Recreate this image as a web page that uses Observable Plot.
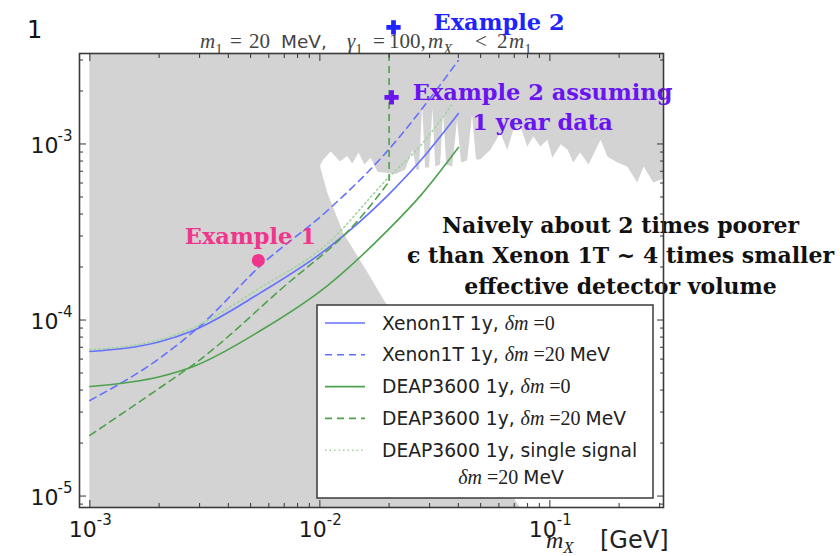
<!DOCTYPE html>
<html>
<head>
<meta charset="utf-8">
<script src="https://cdn.jsdelivr.net/npm/d3@7"></script>
<script src="https://cdn.jsdelivr.net/npm/@observablehq/plot@0.6"></script>
<style>
  body { margin: 0; background: #fff; }
  #chart { width: 840px; height: 556px; }
</style>
</head>
<body>
<div id="chart"></div>
<script>
// ---- axis limits and ticks (GeV on x, coupling on y) ----
const xDomain = [10 ** -3.045, 10 ** -0.506];
const yDomain = [10 ** -5.065, 10 ** -2.486];
const xMajorTicks = [1e-3, 1e-2, 1e-1];
const yMajorTicks = [1e-5, 1e-4, 1e-3];
const minorFactors = [2, 3, 4, 5, 6, 7, 8, 9];

// ---- excluded region (gray): below the lower edge and above the jagged upper edge ----
const bandLowX = [0.001, 0.0101, 0.0101, 0.0108, 0.0127, 0.0162, 0.019, 0.077];
const bandLowY = [1, 1, 7.3e-4, 5.3e-4, 3.1e-4, 1.85e-4, 1.3e-4, 8e-6];
const bandHighX = [0.0099, 0.0104, 0.0112, 0.0123, 0.0132, 0.0139, 0.0148, 0.0157, 0.0167, 0.0179,
  0.0214, 0.0236, 0.0254, 0.0264, 0.0271, 0.028, 0.0288, 0.03, 0.031, 0.0319, 0.0335, 0.0345,
  0.0356, 0.0378, 0.0397, 0.0413, 0.0439, 0.0461, 0.048, 0.05,
  0.0554, 0.0612, 0.0656, 0.0697, 0.0748, 0.0802, 0.0851, 0.0914, 0.098, 0.103,
  0.112, 0.12, 0.127, 0.136, 0.148, 0.167, 0.179, 0.198, 0.218, 0.241, 0.257, 0.283, 0.32];
const bandHighY = [7.3e-4, 8.1e-4, 9.0e-4, 7.9e-4, 8.5e-4, 7.7e-4, 8.9e-4, 7.6e-4, 8.3e-4, 6.9e-4,
  6.7e-4, 7.1e-4, 9.2e-4, 7.1e-4, 7.1e-4, 1.67e-3, 7.3e-4, 7.3e-4, 1.6e-3, 7.4e-4, 7.6e-4, 1.52e-3,
  7.6e-4, 7.4e-4, 1.37e-3, 7.8e-4, 8.0e-4, 1.46e-3, 8.1e-4, 8.1e-4,
  9.2e-4, 1.15e-3, 9.2e-4, 1.2e-3, 1.25e-3, 9.6e-4, 1.1e-3, 9.6e-4, 1.05e-3, 8.3e-4,
  9.9e-4, 9.2e-4, 7.8e-4, 8.9e-4, 7.6e-4, 1.05e-3, 8.4e-4, 7.8e-4, 7.4e-4, 6.0e-4, 7.4e-4, 6.0e-4, 6.4e-4];

// ---- projected 1-year sensitivities ----
const xenonX = [0.001, 0.00203, 0.00282, 0.00553, 0.0108, 0.0197, 0.0274, 0.04];
const xenonY = [6.62e-5, 7.55e-5, 8.72e-5, 1.43e-4, 2.55e-4, 5.09e-4, 8.05e-4, 1.49e-3];
const xenonDmX = [0.001, 0.00203, 0.00303, 0.00553, 0.0108, 0.0189, 0.04];
const xenonDmY = [3.49e-5, 6.12e-5, 9.31e-5, 2.04e-4, 4.19e-4, 8.61e-4, 2.98e-3];
const deapX = [0.001, 0.00203, 0.00282, 0.00553, 0.0108, 0.0197, 0.0274, 0.04];
const deapY = [4.19e-5, 4.78e-5, 5.45e-5, 8.72e-5, 1.57e-4, 3.23e-4, 5.09e-4, 9.55e-4];
const deapDmX = [0.001, 0.00224, 0.00282, 0.00675, 0.01503, 0.02];
const deapDmY = [2.21e-5, 4.53e-5, 5.58e-5, 1.49e-4, 3.82e-4, 6.12e-4];
const deapDmEdge = 0.02;   // δm = 20 MeV curve turns vertical here
const deapSingleX = [0.001, 0.00203, 0.00282, 0.00553, 0.0108, 0.0197, 0.0274, 0.0378];
const deapSingleY = [6.79e-5, 7.74e-5, 9.06e-5, 1.53e-4, 2.72e-4, 6.37e-4, 9.8e-4, 1.70e-3];

// ---- benchmark points ----
const exampleNames = ["Example 1", "Example 2", "Example 2 assuming\n1 year data"];
const exampleX = [0.0054, 0.0209, 0.0205];
const exampleY = [2.18e-4, 4.6e-3, 1.84e-3];
const exampleColors = ["#f0368c", "#1f24ff", "#6a14f0"];

const noteText = "Naively about 2 times poorer\nϵ than Xenon 1T ~ 4 times smaller\neffective detector volume";

// ---- series styling ----
const BLUE = "#6470ff", GREEN = "#4ea24e", LIGHTGREEN = "#9fd49f";
const pts = (xs, ys) => xs.map((x, i) => ({x, y: ys[i]}));
const series = [
  {data: pts(xenonX, xenonY), stroke: BLUE, dash: null},
  {data: pts(xenonDmX, xenonDmY), stroke: BLUE, dash: "7,5"},
  {data: pts(deapX, deapY), stroke: GREEN, dash: null},
  {data: pts(deapDmX, deapDmY), stroke: GREEN, dash: "7,5"},
  {data: pts(deapSingleX, deapSingleY), stroke: LIGHTGREEN, dash: "1.5,3"}
];

const minor = majors => majors.flatMap(m => minorFactors.map(f => f * m));
const xMinor = minor([1e-4, ...xMajorTicks]).filter(v => v > xDomain[0] && v < xDomain[1]);
const yMinor = minor([1e-6, ...yMajorTicks]).filter(v => v > yDomain[0] && v < yDomain[1]);
const expLabel = d => String(Math.round(Math.log10(d)));
const blank = () => "";
const examples = exampleNames.map((name, i) => ({name, x: exampleX[i], y: exampleY[i], color: exampleColors[i]}));

// inward-pointing ticks on all four sides
const tickAxes = [];
for (const [ticks, size] of [[xMajorTicks, 7], [xMinor, 4]]) {
  tickAxes.push(Plot.axisX(ticks, {anchor: "bottom", tickSize: size, dy: -size, tickFormat: blank, label: null, stroke: "#333"}));
  tickAxes.push(Plot.axisX(ticks, {anchor: "top", tickSize: size, dy: size, tickFormat: blank, label: null, stroke: "#333"}));
}
for (const [ticks, size] of [[yMajorTicks, 7], [yMinor, 4]]) {
  tickAxes.push(Plot.axisY(ticks, {anchor: "left", tickSize: size, dx: size, tickFormat: blank, label: null, stroke: "#333"}));
  tickAxes.push(Plot.axisY(ticks, {anchor: "right", tickSize: size, dx: -size, tickFormat: blank, label: null, stroke: "#333"}));
}

const serifBold = {fontFamily: "DejaVu Serif", fontWeight: "bold", fontSize: 22.5};

const chart = Plot.plot({
  width: 840, height: 556,
  marginLeft: 79, marginRight: 177, marginTop: 53, marginBottom: 49,
  style: {fontFamily: "DejaVu Sans, sans-serif", color: "#1a1a1a", background: "white"},
  x: {type: "log", domain: xDomain},
  y: {type: "log", domain: yDomain},
  marks: [
    Plot.areaY(pts(bandLowX, bandLowY), {x: "x", y1: 1e-7, y2: "y", fill: "#d3d3d3", clip: true}),
    Plot.areaY(pts(bandHighX, bandHighY), {x: "x", y1: "y", y2: 1, fill: "#d3d3d3", clip: true}),
    ...series.map(s => Plot.line(s.data, {x: "x", y: "y", stroke: s.stroke, strokeWidth: 1.6,
      strokeDasharray: s.dash, curve: "monotone-x", clip: true})),
    Plot.ruleX([deapDmEdge], {y1: deapDmY[deapDmY.length - 1], y2: 1, stroke: GREEN,
      strokeWidth: 1.6, strokeDasharray: "7,5", clip: true}),
    Plot.dot(examples.slice(0, 1), {x: "x", y: "y", r: 6.5, fill: "color", symbol: "circle"}),
    Plot.dot(examples.slice(1), {x: "x", y: "y", r: 6, fill: "color", symbol: "cross"}),
    Plot.text(examples.slice(0, 1), {x: "x", y: "y", text: "name", fill: "color", dx: -8, dy: -24,
      textAnchor: "middle", ...serifBold}),
    Plot.text(examples.slice(1, 2), {x: "x", y: "y", text: "name", fill: "color", dx: 40, dy: -5,
      textAnchor: "start", ...serifBold}),
    Plot.text(examples.slice(2), {x: "x", y: "y", text: "name", fill: "color", dx: 151, dy: 8,
      lineHeight: 1.36, textAnchor: "middle", ...serifBold}),
    Plot.text([noteText], {frameAnchor: "top-right", dx: -43, dy: 200, text: d => d, fill: "#111",
      lineAnchor: "middle", lineHeight: 1.38, textAnchor: "middle", ...serifBold, fontSize: 22}),
    Plot.frame({stroke: "#3a3a3a", strokeWidth: 1.6}),
    ...tickAxes,
    Plot.axisX(xMajorTicks, {anchor: "bottom", tickSize: 0, tickPadding: 14, tickFormat: () => "10",
      fontSize: 22, textAnchor: "end", dx: 7, label: null}),
    Plot.axisX(xMajorTicks, {anchor: "bottom", tickSize: 0, tickPadding: 7, tickFormat: expLabel,
      fontSize: 15, textAnchor: "start", dx: 7, label: null}),
    Plot.axisY(yMajorTicks, {anchor: "left", tickSize: 0, tickPadding: 21, tickFormat: () => "10",
      fontSize: 22, dy: 2, label: null}),
    Plot.axisY(yMajorTicks, {anchor: "left", tickSize: 0, tickPadding: 7, tickFormat: expLabel,
      fontSize: 15, dy: -8, label: null})
  ]
});

// ---- title, page number, axis label and legend ----
const svg = d3.select(chart);
const MATH = "Liberation Serif, serif";
const SANS = "DejaVu Sans, sans-serif";

// parts: [text, kind, optional x]; kind is "sans", "math", "it", "sub" or "subit"
function mathText(sel, parts, sizes) {
  let shift = 0;
  for (const [t, kind, x] of parts) {
    const ts = sel.append("tspan").text(t);
    if (x !== undefined) ts.attr("x", x);
    const isSub = kind === "sub" || kind === "subit";
    const want = isSub ? (sizes.sub ?? 0.3) * sizes.math : 0;
    if (want !== shift) { ts.attr("dy", want - shift); shift = want; }
    ts.attr("font-family", kind === "sans" ? SANS : MATH)
      .attr("font-style", kind === "it" || kind === "subit" ? "italic" : "normal")
      .attr("font-size", isSub ? sizes.math * 0.7 : kind === "sans" ? sizes.sans : sizes.math);
  }
}

const title = svg.insert("text", ":first-child")
  .attr("y", 48).attr("text-anchor", "start").attr("fill", "#444");
mathText(title, [["m", "it", 200], ["1", "sub"], ["=", "math", 230], ["20", "math", 249],
  ["MeV,", "sans", 281], ["γ", "it", 347], ["1", "sub"], ["=", "math", 373], ["100,", "math", 389],
  ["m", "it", 428], ["X", "subit"], ["<", "math", 475], ["2", "math", 497], ["m", "it", 509], ["1", "sub"]],
  {math: 21, sans: 18.5});

svg.append("text").attr("x", 27).attr("y", 38).attr("text-anchor", "start")
  .attr("font-size", 24).attr("fill", "#111").text("1");

const xlabel = svg.append("text").attr("y", 548).attr("text-anchor", "start").attr("fill", "#222");
mathText(xlabel, [["m", "it", 546], ["X", "subit"], ["[GeV]", "sans", 600]], {math: 24, sans: 24, sub: 0.22});

const legendEntries = [
  {stroke: BLUE, dash: null, parts: [["Xenon1T 1y, ", "sans"], ["δm", "it"], [" =0", "math"]]},
  {stroke: BLUE, dash: "7,5", parts: [["Xenon1T 1y, ", "sans"], ["δm", "it"], [" =20 ", "math"], ["MeV", "sans"]]},
  {stroke: GREEN, dash: null, parts: [["DEAP3600 1y, ", "sans"], ["δm", "it"], [" =0", "math"]]},
  {stroke: GREEN, dash: "7,5", parts: [["DEAP3600 1y, ", "sans"], ["δm", "it"], [" =20 ", "math"], ["MeV", "sans"]]},
  {stroke: LIGHTGREEN, dash: "1.5,3", parts: [["DEAP3600 1y, single signal", "sans"]],
    second: [["δm", "it"], [" =20 ", "math"], ["MeV", "sans"]]}
];
const lg = svg.append("g").attr("transform", "translate(317,305)");
lg.append("rect").attr("width", 336).attr("height", 193).attr("fill", "white")
  .attr("stroke", "#3a3a3a").attr("stroke-width", 1.5);
legendEntries.forEach((e, i) => {
  const cy = 18 + i * 31.8;
  lg.append("line").attr("x1", 8).attr("x2", 48).attr("y1", cy).attr("y2", cy)
    .attr("stroke", e.stroke).attr("stroke-width", 1.6).attr("stroke-dasharray", e.dash);
  const t = lg.append("text").attr("x", 65).attr("y", cy + 6.5).attr("text-anchor", "start").attr("fill", "#222");
  mathText(t, e.parts, {math: 20, sans: 18.7});
  if (e.second) {
    const t2 = lg.append("text").attr("x", 194).attr("y", cy + 34).attr("text-anchor", "middle").attr("fill", "#222");
    mathText(t2, e.second, {math: 20, sans: 18.7});
  }
});

document.getElementById("chart").append(chart);
</script>
</body>
</html>
